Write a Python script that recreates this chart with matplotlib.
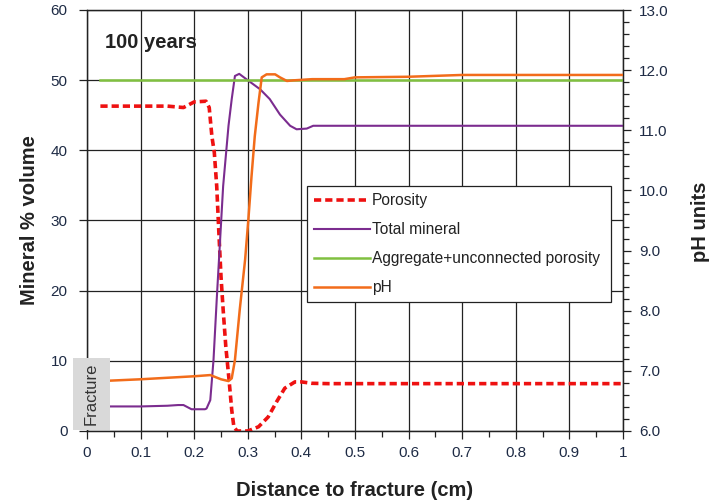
import matplotlib
matplotlib.use("Agg")
import matplotlib.pyplot as plt
from matplotlib.patches import Rectangle
from matplotlib.ticker import MultipleLocator

plt.rcParams['font.family'] = ['Liberation Sans', 'DejaVu Sans']

# Porosity (left axis, %)
por_x = [0.025, 0.10, 0.15, 0.18, 0.20, 0.222, 0.228, 0.233, 0.2375, 0.242, 0.246, 0.25,
         0.254, 0.259, 0.265, 0.27, 0.274, 0.28, 0.30, 0.32, 0.338, 0.354, 0.369, 0.388,
         0.40, 0.419, 0.45, 0.6, 0.8, 1.0]
por_y = [46.3, 46.3, 46.3, 46.1, 46.9, 47.0, 46.1, 42.0, 39.7, 34.9, 28.3, 22.0,
         17.3, 12.0, 7.3, 3.0, 0.6, 0.0, 0.0, 0.6, 2.0, 4.2, 6.1, 7.0,
         7.0, 6.8, 6.75, 6.75, 6.75, 6.75]

# Total mineral (left axis, %)
tm_x = [0.025, 0.10, 0.15, 0.17, 0.18, 0.195, 0.22, 0.223, 0.23, 0.236, 0.242, 0.248,
        0.254, 0.264, 0.27, 0.276, 0.284, 0.298, 0.323, 0.341, 0.36, 0.379, 0.391,
        0.41, 0.422, 0.6, 0.8, 1.0]
tm_y = [3.5, 3.5, 3.6, 3.7, 3.7, 3.1, 3.1, 3.2, 4.4, 10.1, 18.7, 26.8,
        34.9, 43.5, 47.3, 50.6, 50.9, 50.1, 48.7, 47.3, 45.1, 43.5, 43.0,
        43.1, 43.5, 43.5, 43.5, 43.5]

# Aggregate + unconnected porosity (left axis, %)
agg_x = [0.025, 1.0]
agg_y = [50.0, 50.0]

# pH (right axis)
ph_x = [0.025, 0.10, 0.20, 0.23, 0.25, 0.264, 0.27, 0.276, 0.285, 0.295, 0.301, 0.307,
        0.313, 0.32, 0.326, 0.335, 0.351, 0.36, 0.373, 0.385, 0.42, 0.48, 0.5, 0.6,
        0.7, 1.0]
ph_y = [6.83, 6.86, 6.91, 6.93, 6.86, 6.83, 6.875, 7.18, 8.02, 8.85, 9.51, 10.24,
        10.90, 11.46, 11.88, 11.93, 11.93, 11.88, 11.82, 11.83, 11.85, 11.85, 11.88, 11.89,
        11.92, 11.92]

x_ticks = [0, 0.1, 0.2, 0.3, 0.4, 0.5, 0.6, 0.7, 0.8, 0.9, 1.0]
x_labels = ['0', '0.1', '0.2', '0.3', '0.4', '0.5', '0.6', '0.7', '0.8', '0.9', '1']
left_ticks = [0, 10, 20, 30, 40, 50, 60]
right_ticks = [6, 7, 8, 9, 10, 11, 12, 13]
right_labels = ['6.0', '7.0', '8.0', '9.0', '10.0', '11.0', '12.0', '13.0']

tick_color = '#1e2b45'

fig = plt.figure(figsize=(7.10, 5.04), dpi=100)
ax = fig.add_axes([87/710, 1 - 431/504, (623-87)/710, (431-10)/504])
ax2 = ax.twinx()

ax.set_xlim(0, 1)
ax.set_ylim(0, 60)
ax2.set_ylim(6, 13)

l_por, = ax.plot(por_x, por_y, color='#ee1111', lw=2.6, dashes=(2, 1.1), label='Porosity', zorder=3)
l_tm, = ax.plot(tm_x, tm_y, color='#7b2c8f', lw=1.5, label='Total mineral', zorder=3)
l_agg, = ax.plot(agg_x, agg_y, color='#80c040', lw=1.8, label='Aggregate+unconnected porosity', zorder=3)
l_ph, = ax2.plot(ph_x, ph_y, color='#f26c1a', lw=1.8, label='pH', zorder=3)

ax.set_xticks(x_ticks)
ax.set_xticklabels(x_labels)
ax.xaxis.set_minor_locator(MultipleLocator(0.05))
ax.set_yticks(left_ticks)
ax2.set_yticks(right_ticks)
ax2.set_yticklabels(right_labels)
ax2.yaxis.set_minor_locator(MultipleLocator(0.2))

ax.grid(True, which='major', color='#222222', lw=0.9)
ax.set_axisbelow(True)

for a in (ax, ax2):
    for s in a.spines.values():
        s.set_color('#222222')
        s.set_linewidth(0.9)
ax.tick_params(axis='both', which='major', direction='out', length=6, width=0.9,
               colors='#222222', labelcolor=tick_color, labelsize=11)
ax.tick_params(axis='x', which='minor', direction='out', length=4, width=0.9, colors='#222222')
ax.tick_params(axis='x', which='major', pad=5)
ax.tick_params(axis='y', which='major', pad=8)
ax2.tick_params(axis='y', which='major', direction='out', length=6, width=0.9,
                colors='#222222', labelcolor=tick_color, labelsize=11, pad=5.5)
ax2.tick_params(axis='y', which='minor', direction='out', length=4, width=0.9, colors='#222222')

ax.set_xlabel('Distance to fracture (cm)', fontsize=14.5, fontweight='bold', color='#222222', labelpad=15)
ax.set_ylabel('Mineral % volume', fontsize=14.5, fontweight='bold', color='#222222', labelpad=8)
fig.text(700/710, 1 - 222/504, 'pH units', rotation=90, fontsize=14.5, fontweight='bold',
         color='#222222', ha='center', va='center')

ax.text(0.034, 55.3, '100 years', fontsize=14.5, fontweight='bold', color='#222222',
        ha='left', va='center')

# Fracture box
rect = Rectangle((-0.026, 0.2), 0.069, 10.2, transform=ax.transData, facecolor='#d9d9d9',
                 edgecolor='none', clip_on=False, zorder=10)
ax2.add_patch(rect)
ax2.text(0.0085, 5.3, 'Fracture', transform=ax.transData, rotation=90, fontsize=12,
         color='#333333', ha='center', va='center', zorder=11, clip_on=False)

leg = ax2.legend(handles=[l_por, l_tm, l_agg, l_ph], loc='upper left',
                 bbox_to_anchor=(0.41, 0.582, 0.568, 0.0), mode='expand',
                 fontsize=11.2, frameon=True, fancybox=False, framealpha=1,
                 edgecolor='#222222', handlelength=3.6, handletextpad=0.15,
                 borderpad=0.45, labelspacing=0.9, borderaxespad=0)
leg.get_frame().set_linewidth(0.9)
for t in leg.get_texts():
    t.set_color('#222222')

fig.savefig('out.png', dpi=100)
